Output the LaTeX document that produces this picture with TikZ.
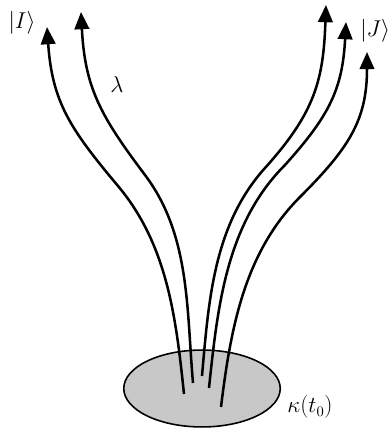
\documentclass[tikz,border=0pt]{standalone}
\usetikzlibrary{arrows.meta,shapes.geometric}

\begin{document}
\begin{tikzpicture}[x=0.0265cm, y=0.0265cm, font=\fontsize{16}{18}\selectfont,
  strand/.style={line width=1.9pt, -{Triangle[length=13pt,width=11pt]}},
  blobstyle/.style={ellipse, draw, line width=1.2pt, fill=gray!43,
    minimum width=118pt, minimum height=58pt, inner sep=0pt}]
  \useasboundingbox (0,0) rectangle (389,431);

  % ----- initial region -----
  \node[blobstyle] (blob) at (202,42.5) {};

  % feet and tips of the strands
  \coordinate (footA) at (184,37);
  \coordinate (footB) at (193,48);
  \coordinate (footC) at (202,55);
  \coordinate (footD) at (209,43);
  \coordinate (footE) at (221,24);
  \coordinate (tipA) at (47,404);
  \coordinate (tipB) at (81,419);
  \coordinate (tipC) at (326,426);
  \coordinate (tipD) at (346,409);
  \coordinate (tipE) at (367,379);

  % ----- strands -----
  \draw[strand] (footA) to[out=96,in=-50,looseness=0.9] (118,245)
    to[out=130,in=-86,looseness=1.1] (tipA);
  \draw[strand] (footB) to[out=95,in=-53,looseness=0.9] (145,256)
    to[out=127,in=-87,looseness=1.1] (tipB);
  \draw[strand] (footC) to[out=85,in=-132,looseness=0.9] (265,263)
    to[out=48,in=-92,looseness=1.1] (tipC);
  \draw[strand] (footD) to[out=84,in=-135,looseness=0.9] (285,266)
    to[out=48,in=-93,looseness=1.1] (tipD);
  \draw[strand] (footE) to[out=83,in=-135,looseness=0.9] (300,234)
    to[out=45,in=-90,looseness=1.1] (tipE);

  % ----- labels -----
  \node (ketI) at (22,408) {$|I\rangle$};
  \node (lam) at (117,346) {$\lambda$};
  \node[anchor=west, inner sep=0pt] (ketJ) at (360,400) {$|J\rangle$};
  \node (kap) at (310,24) {$\kappa(t_0)$};
\end{tikzpicture}
\end{document}
